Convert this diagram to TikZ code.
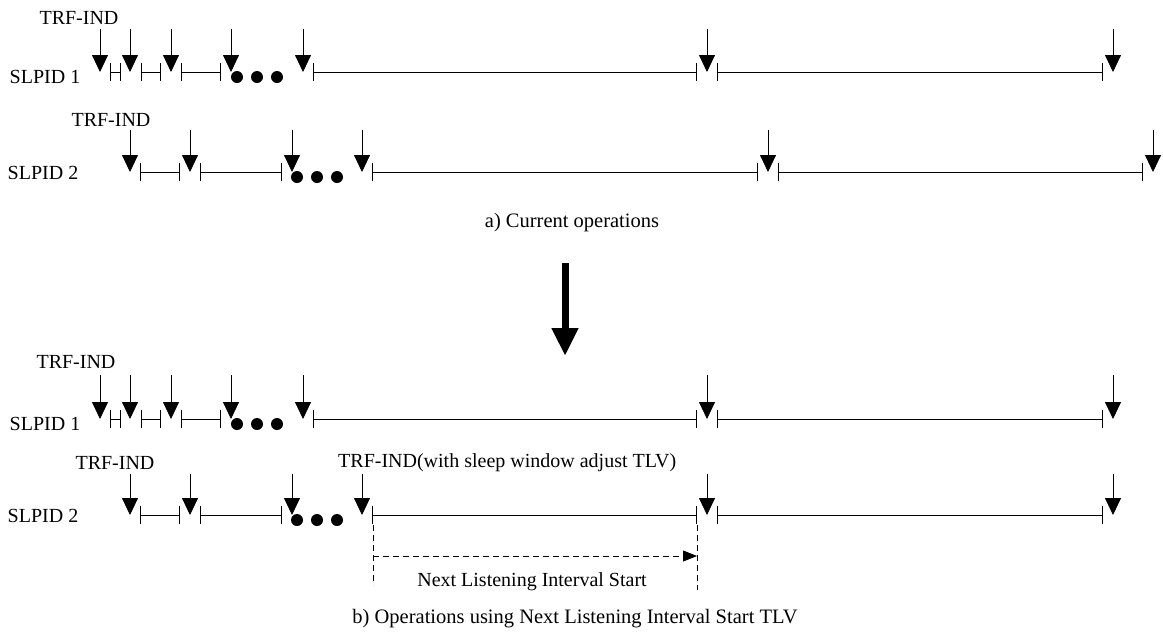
\documentclass[tikz,border=0pt]{standalone}
\usepackage{fontspec}
\setmainfont{Liberation Serif}
\usetikzlibrary{arrows.meta}
\begin{document}
\begin{tikzpicture}[x=1pt,y=-1pt,
  every node/.style={inner sep=0pt,font=\fontsize{20}{23}\selectfont},
  darr/.style={line width=0.8pt,-{Triangle[length=17pt,width=16pt]}},
  seg/.style={line width=0.8pt,{Bar[width=18pt,line width=0.8pt]}-{Bar[width=18pt,line width=0.8pt]}},
  dot/.style={fill=black,draw=none},
  dsh/.style={line width=0.8pt,dash pattern=on 6pt off 4pt},
  lbl/.style={anchor=center}]
\useasboundingbox (0,0) rectangle (1163,633);
% ---------- row a1 ----------
\def\ya{72}
\node[lbl] (ta1) at (79,18) {TRF-IND};
\node[lbl] (sa1) at (45,77) {SLPID 1};
\foreach \x in {100,130,171,231,303,707,1113}{\draw[darr] (\x,29) -- (\x,\ya);}
\foreach \a/\b in {110/121,141/161,181/221,313/697,717/1103}{\draw[seg] (\a,\ya) -- (\b,\ya);}
\foreach \x in {237,257,277}{\fill[dot] (\x,\ya+5) circle (6);}
% ---------- row a2 ----------
\def\yb{172}
\node[lbl] (ta2) at (111,120) {TRF-IND};
\node[lbl] (sa2) at (43,173) {SLPID 2};
\foreach \x in {130,190,292,362,768,1153}{\draw[darr] (\x,130) -- (\x,\yb);}
\foreach \a/\b in {140/180,200/282,372/758,778/1143}{\draw[seg] (\a,\yb) -- (\b,\yb);}
\foreach \x in {297,317,337}{\fill[dot] (\x,\yb+5) circle (6);}
\node[lbl,font=\fontsize{20.5}{24}\selectfont] (capa) at (572,223) {a) Current operations};
% ---------- big arrow ----------
\coordinate (bt) at (565,263);
\coordinate (bb) at (565,356);
\draw[line width=7pt,-{Triangle[length=28pt,width=25pt]}] (bt) -- (bb);
% ---------- row b1 ----------
\def\yc{419}
\node[lbl] (tb1) at (76,362) {TRF-IND};
\node[lbl] (sb1) at (45,424) {SLPID 1};
\foreach \x in {100,130,171,231,303,707,1113}{\draw[darr] (\x,375) -- (\x,\yc);}
\foreach \a/\b in {110/121,141/161,181/221,313/697,717/1103}{\draw[seg] (\a,\yc) -- (\b,\yc);}
\foreach \x in {237,257,277}{\fill[dot] (\x,\yc+5) circle (6);}
% ---------- row b2 ----------
\def\yd{515}
\node[lbl] (tb2) at (115,463) {TRF-IND};
\node[lbl,anchor=west] (tb3) at (338,463) {TRF-IND(with sleep window adjust TLV)};
\node[lbl] (sb2) at (43,516) {SLPID 2};
\foreach \x in {130,190,292,362,707,1113}{\draw[darr] (\x,474) -- (\x,\yd);}
\foreach \a/\b in {140/180,200/282,372/697,717/1103}{\draw[seg] (\a,\yd) -- (\b,\yd);}
\foreach \x in {297,317,337}{\fill[dot] (\x,\yd+5) circle (6);}
% ---------- dashed measure ----------
\coordinate (d1t) at (373,525);
\coordinate (d1b) at (373,585);
\coordinate (d2t) at (697,525);
\coordinate (d2b) at (697,590);
\draw[dsh] (d1t) -- (d1b);
\draw[dsh] (d2t) -- (d2b);
\coordinate (da) at (373,556);
\coordinate (db) at (697,556);
\draw[dsh,-{Triangle[length=14pt,width=11pt]}] (da) -- (db);
\node[lbl] (nlis) at (532,582) {Next Listening Interval Start};
\node[lbl,font=\fontsize{20.5}{24}\selectfont] (capb) at (575,619) {b) Operations using Next Listening Interval Start TLV};
\end{tikzpicture}
\end{document}
